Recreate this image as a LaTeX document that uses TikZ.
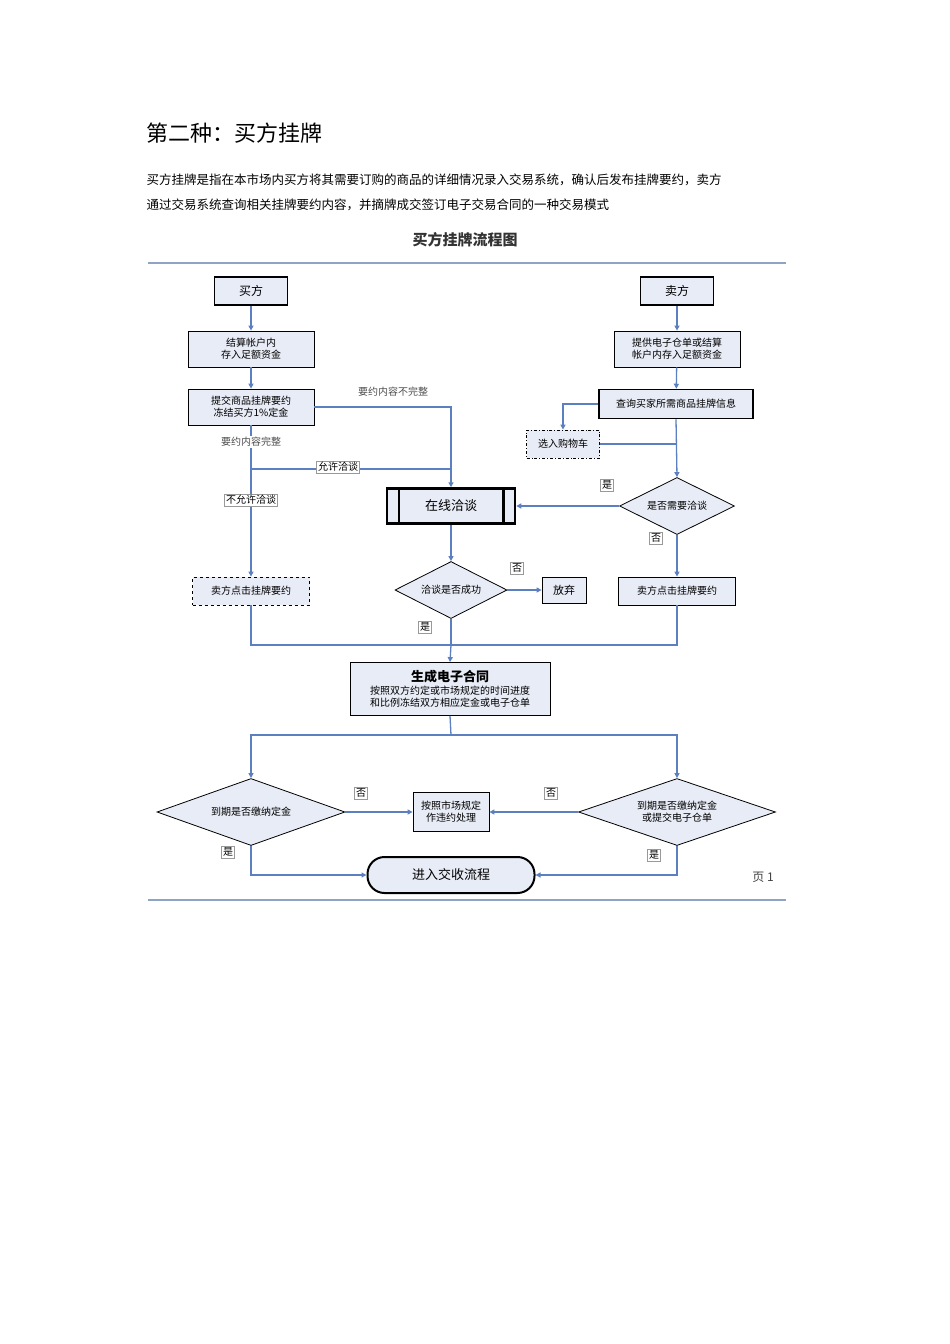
\documentclass[tikz,border=0pt]{standalone}
\usepackage{fontspec}
\setmainfont{Noto Sans CJK SC}
\usetikzlibrary{arrows.meta,shapes.geometric}
\definecolor{lineblue}{HTML}{5B7FBF}
\definecolor{boxfill}{HTML}{E8ECF6}
\definecolor{rulegray}{HTML}{8FA3C4}
\tikzset{
  flow/.style={draw=black, fill=boxfill, thick, align=center, font=\fontsize{10}{12}\selectfont, inner sep=2pt},
  dec/.style={draw=black, fill=boxfill, thick, diamond, aspect=2, align=center, font=\fontsize{10}{12}\selectfont, inner sep=0pt},
  lab/.style={draw=black!40, fill=white, font=\fontsize{10}{11}\selectfont, inner sep=1.5pt},
  conn/.style={draw=lineblue, line width=1.3pt},
  arr/.style={conn, -{Triangle[length=5pt,width=5pt]}}
}
\begin{document}
\begin{tikzpicture}[x=1pt,y=-1pt]
    \useasboundingbox (0,0) rectangle (950,1344);
    %%Đầu trang
    \node[anchor=west, font=\fontsize{22}{24}\selectfont] (title) at (143,133) {第二种：买方挂牌};
    \node[anchor=west, font=\fontsize{12.5}{14}\selectfont] (par1) at (143,180) {买方挂牌是指在本市场内买方将其需要订购的商品的详细情况录入交易系统，确认后发布挂牌要约，卖方};
    \node[anchor=west, font=\fontsize{12.5}{14}\selectfont] (par2) at (143,205) {通过交易系统查询相关挂牌要约内容，并摘牌成交签订电子交易合同的一种交易模式};
    \node[font=\bfseries\fontsize{15}{17}\selectfont, text=black!80] (chart) at (465,240) {买方挂牌流程图};
    \draw[rulegray, line width=2pt] (148,263) -- (786,263) (148,900) -- (786,900);
    %%Các hộp
    \node[flow, minimum width=73pt, minimum height=28pt, font=\fontsize{12}{14}\selectfont, line width=1.5pt] (buyer) at (251,291) {买方};
    \node[flow, minimum width=73pt, minimum height=28pt, font=\fontsize{12}{14}\selectfont, line width=1.5pt] (seller) at (677,291) {卖方};
    \node[flow, minimum width=126pt, minimum height=36pt] (fund) at (251,349) {结算帐户内\\存入足额资金};
    \node[flow, minimum width=126pt, minimum height=36pt] (submit) at (251,407) {提交商品挂牌要约\\冻结买方1\%定金};
    \node[flow, minimum width=126pt, minimum height=36pt] (supply) at (677,349) {提供电子仓单或结算\\帐户内存入足额资金};
    \node[flow, minimum width=154pt, minimum height=29pt, line width=1.5pt] (query) at (676,404) {查询买家所需商品挂牌信息};
    \node[flow, minimum width=73pt, minimum height=28pt, dash dot] (cart) at (563,444) {选入购物车};
    \node[flow, minimum width=128pt, minimum height=35pt, line width=2.5pt, font=\fontsize{13}{15}\selectfont] (talk) at (451,506) {在线洽谈};
    \draw[line width=2.5pt] ([xshift=13pt]talk.north west) -- ([xshift=13pt]talk.south west)
      ([xshift=-13pt]talk.north east) -- ([xshift=-13pt]talk.south east);
    \node[dec, minimum width=115pt, minimum height=57pt] (need) at (677,506) {是否需要洽谈};
    \node[dec, minimum width=112pt, minimum height=57pt] (ok) at (451,590) {洽谈是否成功};
    \node[flow, minimum width=44pt, minimum height=26pt, font=\fontsize{11}{13}\selectfont] (quit) at (564,590) {放弃};
    \node[flow, minimum width=117pt, minimum height=28pt, dashed] (clickL) at (251,591) {卖方点击挂牌要约};
    \node[flow, minimum width=117pt, minimum height=28pt] (clickR) at (677,591) {卖方点击挂牌要约};
    \node[flow, minimum width=200pt, minimum height=53pt, font=\fontsize{10}{12.5}\selectfont] (contract) at (450,689)
      {{\bfseries\fontsize{13}{15}\selectfont 生成电子合同}\\按照双方约定或市场规定的时间进度\\和比例冻结双方相应定金或电子仓单};
    \node[dec, minimum width=188pt, minimum height=67pt] (payL) at (251,812) {到期是否缴纳定金};
    \node[dec, minimum width=197pt, minimum height=67pt] (payR) at (677,812) {到期是否缴纳定金\\或提交电子仓单};
    \node[flow, minimum width=76pt, minimum height=39pt] (breach) at (451,812) {按照市场规定\\作违约处理};
    \node[flow, rounded corners=17pt, minimum width=167pt, minimum height=36pt, line width=2pt, font=\fontsize{13}{15}\selectfont] (settle) at (451,875) {进入交收流程};
    \node[font=\fontsize{12}{14}\selectfont, text=black!75] (page) at (763,877) {页 1};
    %%Các đường nối
    \coordinate (split) at (451,735);
    \coordinate (merge) at (451,645);
    \draw[arr] (buyer) -- (fund);
    \draw[arr] (fund) -- (submit);
    \draw[arr] (seller) -- (supply);
    \draw[arr] (supply) -- (query);
    \draw[arr] (submit.east) -| (talk.north);
    \draw[arr] (submit.south) -- (clickL.north);
    \draw[conn] (251,469) -- (451,469);
    \draw[arr] (query.west) -| (cart.north);
    \draw[conn] (cart.east) -- (676,444);
    \draw[arr] (query.south) -- (need.north);
    \draw[arr] (need.west) -- (talk.east);
    \draw[arr] (need.south) -- (clickR.north);
    \draw[arr] (talk.south) -- (ok.north);
    \draw[arr] (ok.east) -- (quit.west);
    \draw[conn] (ok.south) -- (merge);
    \draw[conn] (clickL.south) |- (merge) -| (clickR.south);
    \draw[arr] (merge) -- (contract.north);
    \draw[conn] (contract.south) -- (split);
    \draw[arr] (split) -| (payL.north);
    \draw[arr] (split) -| (payR.north);
    \draw[arr] (payL.east) -- (breach.west);
    \draw[arr] (payR.west) -- (breach.east);
    \draw[arr] (payL.south) |- (settle.west);
    \draw[arr] (payR.south) |- (settle.east);
    %%Nhãn
    \node[font=\fontsize{10}{11}\selectfont, text=black!70] (l1) at (393,392) {要约内容不完整};
    \node[font=\fontsize{10}{11}\selectfont, text=black!70, fill=white, inner sep=1pt] (l2) at (251,442) {要约内容完整};
    \node[lab] (l3) at (338,467) {允许洽谈};
    \node[lab] (l4) at (251,500) {不允许洽谈};
    \node[lab] (l5) at (607,485) {是};
    \node[lab] (l6) at (656,538) {否};
    \node[lab] (l7) at (517,568) {否};
    \node[lab] (l8) at (425,627) {是};
    \node[lab] (l9) at (361,793) {否};
    \node[lab] (l10) at (551,793) {否};
    \node[lab] (l11) at (228,852) {是};
    \node[lab] (l12) at (654,855) {是};
\end{tikzpicture}
\end{document}
